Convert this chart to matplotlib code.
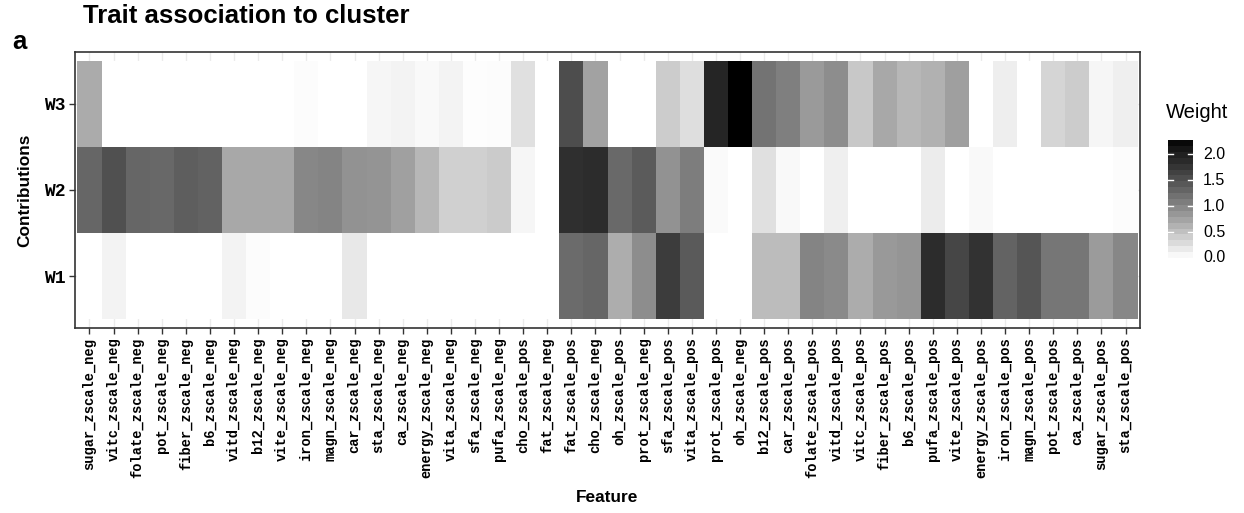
import matplotlib
matplotlib.use("Agg")
import matplotlib.pyplot as plt
import numpy as np
from matplotlib.colors import ListedColormap, Normalize

# features along x (left to right)
features = [
    "sugar_zscale_neg", "vitc_zscale_neg", "folate_zscale_neg", "pot_zscale_neg",
    "fiber_zscale_neg", "b6_zscale_neg", "vitd_zscale_neg", "b12_zscale_neg",
    "vite_zscale_neg", "iron_zscale_neg", "magn_zscale_neg", "car_zscale_neg",
    "sta_zscale_neg", "ca_zscale_neg", "energy_zscale_neg", "vita_zscale_neg",
    "sfa_zscale_neg", "pufa_zscale_neg", "cho_zscale_pos", "fat_zscale_neg",
    "fat_zscale_pos", "cho_zscale_neg", "oh_zscale_pos", "prot_zscale_neg",
    "sfa_zscale_pos", "vita_zscale_pos", "prot_zscale_pos", "oh_zscale_neg",
    "b12_zscale_pos", "car_zscale_pos", "folate_zscale_pos", "vitd_zscale_pos",
    "vitc_zscale_pos", "fiber_zscale_pos", "b6_zscale_pos", "pufa_zscale_pos",
    "vite_zscale_pos", "energy_zscale_pos", "iron_zscale_pos", "magn_zscale_pos",
    "pot_zscale_pos", "ca_zscale_pos", "sugar_zscale_pos", "sta_zscale_pos",
]
rows = ["W1", "W2", "W3"]

w1 = [0.00, 0.10, 0.00, 0.00, 0.00, 0.00, 0.10, 0.03, 0.00, 0.00, 0.00, 0.18,
      0.00, 0.00, 0.00, 0.00, 0.00, 0.00, 0.00, 0.00, 1.25, 1.30, 0.67, 0.94,
      1.70, 1.40, 0.00, 0.00, 0.55, 0.55, 1.02, 0.97, 0.68, 0.84, 0.88, 1.87,
      1.60, 1.80, 1.32, 1.46, 1.14, 1.14, 0.82, 0.99]
w2 = [1.30, 1.50, 1.30, 1.28, 1.37, 1.33, 0.71, 0.71, 0.71, 0.99, 1.02, 0.90,
      0.89, 0.78, 0.58, 0.38, 0.38, 0.42, 0.08, 0.00, 1.83, 1.87, 1.27, 1.39,
      0.90, 1.08, 0.04, 0.00, 0.25, 0.05, 0.00, 0.13, 0.00, 0.00, 0.00, 0.16,
      0.00, 0.05, 0.00, 0.00, 0.00, 0.00, 0.00, 0.03]
w3 = [0.69, 0.00, 0.00, 0.00, 0.00, 0.00, 0.00, 0.00, 0.00, 0.03, 0.00, 0.00,
      0.08, 0.10, 0.05, 0.10, 0.02, 0.03, 0.25, 0.00, 1.54, 0.76, 0.00, 0.00,
      0.41, 0.26, 1.95, 2.28, 1.17, 1.06, 0.83, 0.94, 0.44, 0.71, 0.58, 0.64,
      0.79, 0.00, 0.14, 0.00, 0.34, 0.41, 0.08, 0.13]

weights = np.array([w1, w2, w3])
vmax = weights.max()

# white -> black gradient, linear in L* (like ggplot's scale_fill_gradient)
L = np.linspace(100, 0, 256)
fy = (L + 16) / 116
Y = np.where(fy > 6 / 29, fy ** 3, 3 * (6 / 29) ** 2 * (fy - 4 / 29))
g = np.where(Y <= 0.0031308, 12.92 * Y, 1.055 * Y ** (1 / 2.4) - 0.055)
g = np.clip(g, 0, 1)
cmap = ListedColormap(np.column_stack([g, g, g]))
norm = Normalize(0, vmax)

fig = plt.figure(figsize=(12.44, 5.13), dpi=100)
ax = fig.add_axes([75 / 1244, 1 - 328 / 513, 1065 / 1244, 276 / 513])

nx = len(features)
x = np.arange(1, nx + 1)
y = np.arange(1, len(rows) + 1)
ax.pcolormesh(np.arange(0.5, nx + 1), np.arange(0.5, len(rows) + 1), weights,
              cmap=cmap, norm=norm, zorder=2)
ax.set_xlim(0.4, nx + 0.6)
ax.set_ylim(0.4, len(rows) + 0.6)

ax.set_xticks(x)
ax.set_xticklabels(features, rotation=90, family="Liberation Mono",
                   fontweight="bold", fontsize=9.9)
ax.set_yticks(y)
ax.set_yticklabels(rows, family="Liberation Mono", fontweight="bold", fontsize=13)
ax.tick_params(length=4, width=1, color="#333333", pad=3)
ax.grid(True, color="#EBEBEB", linewidth=1, zorder=0)
ax.set_axisbelow(True)
for s in ax.spines.values():
    s.set_color("#333333")
    s.set_linewidth(1.2)

ax.set_xlabel("Feature", family="Liberation Sans", fontweight="bold",
              fontsize=12.4, labelpad=9)
ax.set_ylabel("Contributions", family="Liberation Sans", fontweight="bold",
              fontsize=12.4, labelpad=8)

fig.text(83 / 1244, 1 - 16 / 513, "Trait association to cluster",
         family="Liberation Sans", fontweight="bold", fontsize=18.5, va="center")
fig.text(12 / 1244, 1 - 42 / 513, "a", family="Liberation Sans",
         fontweight="bold", fontsize=18.5, va="center")

# legend colorbar
cax = fig.add_axes([1168 / 1244, 1 - 258 / 513, 25 / 1244, 118 / 513])
nbin = 20
edges = np.linspace(0, vmax, nbin + 1)
centres = (edges[:-1] + edges[1:]) / 2
cax.pcolormesh([0, 1], edges, centres.reshape(-1, 1), cmap=cmap, norm=norm)
cax.set_xlim(0, 1)
cax.set_ylim(0, vmax)
for t in [0.0, 0.5, 1.0, 1.5, 2.0]:
    cax.plot([0, 0.2], [t, t], color="white", lw=1)
    cax.plot([0.8, 1], [t, t], color="white", lw=1)
    cax.text(1.4, t, f"{t:.1f}", family="Liberation Sans", fontsize=11.5,
             va="center", ha="left", transform=cax.transData, clip_on=False)
cax.axis("off")
fig.text(1166 / 1244, 1 - 113 / 513, "Weight", family="Liberation Sans",
         fontsize=14.5, va="center")

fig.savefig("out.png", dpi=100)
